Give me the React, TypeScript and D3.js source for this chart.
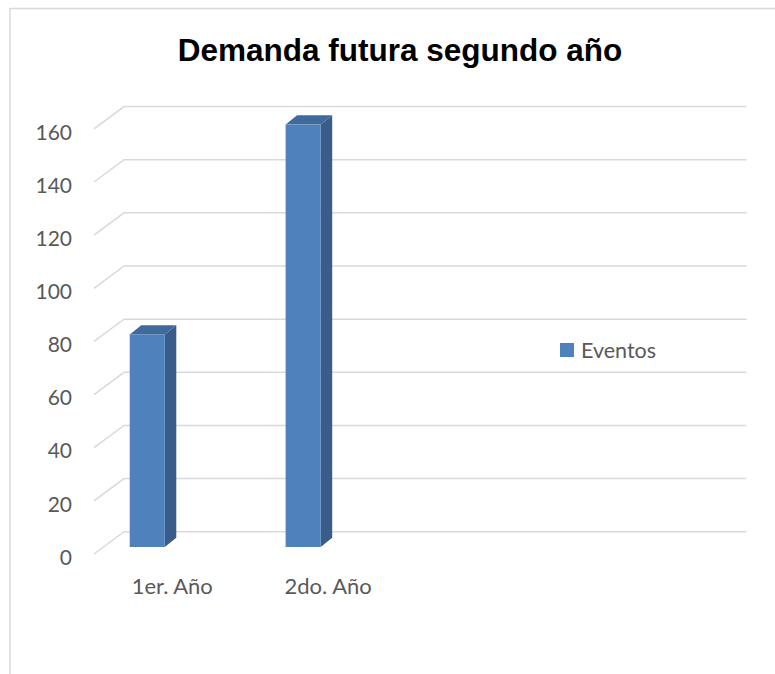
import React from 'react';
import * as d3 from 'd3';

// data
const categories = ['1er. Año', '2do. Año'];
const eventos = [80, 159];
const yTicks = [0, 20, 40, 60, 80, 100, 120, 140, 160];
const seriesName = 'Eventos';
const title = 'Demanda futura segundo año';

const W = 775;
const H = 674;

const App = () => {
  // front plane of the bars
  const y = d3.scaleLinear().domain([0, 160]).range([547, 547 - 160 * 2.657]);
  // back wall sits a bit higher
  const wallShift = -15.3;
  const x = d3.scaleBand<string>()
    .domain(categories)
    .range([69.3, 381.1])
    .paddingInner(0.775)
    .paddingOuter(0.3875);

  const dx = 11.5; // depth offset of the 3d columns
  const dy = -9.3;

  const front = '#4F81BD';
  const side = '#385D8A';
  const top = '#416A9C';
  const grid = '#D9D9D9';
  const txt = '#595959';
  const font = 'Lato, "Open Sans", sans-serif';

  const pts = (p: number[][]) => p.map(d => d.join(',')).join(' ');

  return (
    <svg width={W} height={H} style={{ position: 'absolute', left: 0, top: 0 }}>
      <rect width={W} height={H} fill="#fff" />
      {/* chart border */}
      <line x1={10} y1={8.5} x2={W} y2={8.5} stroke={grid} strokeWidth={1.5} />
      <line x1={10} y1={8} x2={10} y2={H} stroke={grid} strokeWidth={1.5} />

      <text x={400} y={61} textAnchor="middle" fontFamily='"Liberation Sans", Arial, sans-serif'
        fontWeight="bold" fontSize={31.5} fill="#000">{title}</text>

      {/* gridlines with the 3d side wall */}
      {yTicks.map(t => {
        const by = y(t) + wallShift;
        return (
          <g key={t}>
            <polyline points={pts([[94, by + 22.3], [124, by], [746.5, by]])}
              fill="none" stroke={grid} strokeWidth={1.5} />
            <text x={72} y={by + 24.5} textAnchor="end" dominantBaseline="central"
              fontFamily={font} fontSize={21} fill={txt}>{t}</text>
          </g>
        );
      })}

      {/* columns */}
      {categories.map((c, i) => {
        const x0 = x(c)!;
        const x1 = x0 + x.bandwidth();
        const yT = y(eventos[i]);
        const y0 = y(0);
        return (
          <g key={c}>
            <polygon points={pts([[x1, yT], [x1 + dx, yT + dy], [x1 + dx, y0 + dy], [x1, y0]])} fill={side} />
            <polygon points={pts([[x0, yT], [x0 + dx, yT + dy], [x1 + dx, yT + dy], [x1, yT]])} fill={top} />
            <rect x={x0} y={yT} width={x1 - x0} height={y0 - yT} fill={front} />
            <text x={x0 + x.bandwidth() / 2 + 25} y={585} textAnchor="middle" dominantBaseline="central"
              fontFamily={font} fontSize={22} fill={txt}>{c}</text>
          </g>
        );
      })}

      {/* legend */}
      <rect x={560} y={343} width={14} height={14} fill={front} />
      <text x={581} y={350} dominantBaseline="central" fontFamily={font} fontSize={21.5} fill={txt}>{seriesName}</text>
    </svg>
  );
};

export default App;
